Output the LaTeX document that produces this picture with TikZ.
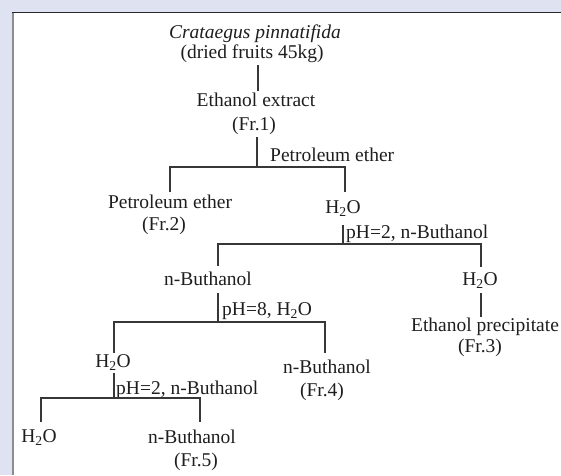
\documentclass[tikz,border=0pt]{standalone}
\usepackage{fontspec}
\setmainfont{Liberation Serif}
\definecolor{bgl}{RGB}{223,227,241}
\definecolor{edgeg}{RGB}{140,140,148}
\definecolor{edged}{RGB}{40,40,44}
\definecolor{ink}{RGB}{30,30,30}
\definecolor{wire}{RGB}{55,55,55}
\tikzset{
  lbl/.style={anchor=base, inner sep=0pt, text=ink, font=\fontsize{19.5}{23}\selectfont},
  side/.style={lbl, anchor=base west},
  wireline/.style={draw=wire, line width=1.3pt}
}
\newcommand{\wat}{H\textsubscript{2}O}
\begin{document}
\begin{tikzpicture}[x=1pt,y=-1pt]
\useasboundingbox (0,0) rectangle (561,475);
\fill[bgl] (0,0) rectangle (561,475);
\fill[white] (12,12) rectangle (561,475);
\draw[edgeg, line width=1.8pt] (12.9,12) -- (12.9,475);
\draw[edged, line width=1pt] (12,12.5) -- (561,12.5);

% text nodes
\node[lbl] (crat1) at (255,38.5) {\textit{Crataegus pinnatifida}};
\node[lbl] (crat2) at (252,58.5) {(dried fruits 45kg)};
\node[lbl] (eth1) at (256,106.5) {Ethanol extract};
\node[lbl] (eth2) at (254,130.5) {(Fr.1)};
\node[side] (lab1) at (270,161) {Petroleum ether};
\node[lbl] (pe1) at (170,208.5) {Petroleum ether};
\node[lbl] (pe2) at (164,230.5) {(Fr.2)};
\node[lbl] (w1) at (343,213.5) {\wat};
\node[side] (lab2) at (346,238.5) {pH=2, n-Buthanol};
\node[lbl] (nb1) at (208,285.5) {n-Buthanol};
\node[lbl] (w2) at (480,285.5) {\wat};
\node[side] (lab3) at (222,315.5) {pH=8, \wat};
\node[lbl] (ep1) at (485,331.5) {Ethanol precipitate};
\node[lbl] (ep2) at (480,352.5) {(Fr.3)};
\node[lbl] (w3) at (113,367.5) {\wat};
\node[lbl] (nb4a) at (327,373.5) {n-Buthanol};
\node[lbl] (nb4b) at (322,396.5) {(Fr.4)};
\node[side] (lab4) at (116,394) {pH=2, n-Buthanol};
\node[lbl] (w4) at (39,442.5) {\wat};
\node[lbl] (nb5a) at (192,443.5) {n-Buthanol};
\node[lbl] (nb5b) at (196,466.5) {(Fr.5)};

% connector points
\coordinate (s0a) at (258,65);  \coordinate (s0b) at (258,91);
\coordinate (s1a) at (257,137); \coordinate (s1b) at (257,167);
\coordinate (b1l) at (170,192); \coordinate (b1lt) at (170,167);
\coordinate (b1rt) at (345,167); \coordinate (b1r) at (345,192);
\coordinate (s2a) at (343,225); \coordinate (s2b) at (343,244);
\coordinate (b2l) at (218,266); \coordinate (b2lt) at (218,244);
\coordinate (b2rt) at (481,244); \coordinate (b2r) at (481,267);
\coordinate (s3a) at (218,293); \coordinate (s3b) at (218,322);
\coordinate (s4a) at (481,293); \coordinate (s4b) at (481,317);
\coordinate (b3l) at (114,353); \coordinate (b3lt) at (114,322);
\coordinate (b3rt) at (325,322); \coordinate (b3r) at (325,353);
\coordinate (s5a) at (114,373); \coordinate (s5b) at (114,398);
\coordinate (b4l) at (41,422); \coordinate (b4lt) at (41,398);
\coordinate (b4rt) at (200,398); \coordinate (b4r) at (200,422);

\draw[wireline] (s0a) -- (s0b);
\draw[wireline] (s1a) -- (s1b);
\draw[wireline] (b1l) -- (b1lt) -- (b1rt) -- (b1r);
\draw[wireline] (s2a) -- (s2b);
\draw[wireline] (b2l) -- (b2lt) -- (b2rt) -- (b2r);
\draw[wireline] (s3a) -- (s3b);
\draw[wireline] (s4a) -- (s4b);
\draw[wireline] (b3l) -- (b3lt) -- (b3rt) -- (b3r);
\draw[wireline] (s5a) -- (s5b);
\draw[wireline] (b4l) -- (b4lt) -- (b4rt) -- (b4r);
\end{tikzpicture}
\end{document}
